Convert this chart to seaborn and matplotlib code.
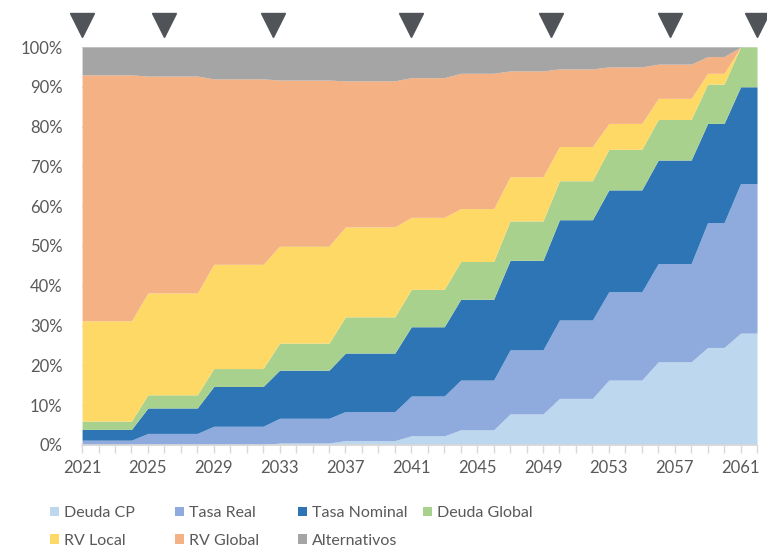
import matplotlib.pyplot as plt
import seaborn as sns
from matplotlib.patches import Patch
from matplotlib.ticker import PercentFormatter

years = list(range(2021, 2063))

# participacion de cada activo (%)
deuda_cp = [0, 0, 0, 0, 0, 0, 0, 0, 0, 0, 0, 0,
            0.5, 0.5, 0.5, 0.5, 1.1, 1.1, 1.1, 1.1,
            2.3, 2.3, 2.3, 3.8, 3.8, 3.8, 7.8, 7.8, 7.8,
            11.7, 11.7, 11.7, 16.3, 16.3, 16.3, 20.9, 20.9, 20.9,
            24.5, 24.5, 28.1, 28.1]
tasa_real = [1.2, 1.2, 1.2, 1.2, 2.9, 2.9, 2.9, 2.9, 4.7, 4.7, 4.7, 4.7,
             6.2, 6.2, 6.2, 6.2, 7.3, 7.3, 7.3, 7.3,
             10.0, 10.0, 10.0, 12.5, 12.5, 12.5, 16.1, 16.1, 16.1,
             19.7, 19.7, 19.7, 22.2, 22.2, 22.2, 24.7, 24.7, 24.7,
             31.4, 31.4, 37.6, 37.6]
tasa_nominal = [2.7, 2.7, 2.7, 2.7, 6.4, 6.4, 6.4, 6.4, 10.0, 10.0, 10.0, 10.0,
                12.1, 12.1, 12.1, 12.1, 14.7, 14.7, 14.7, 14.7,
                17.4, 17.4, 17.4, 20.3, 20.3, 20.3, 22.5, 22.5, 22.5,
                25.2, 25.2, 25.2, 25.6, 25.6, 25.6, 26.0, 26.0, 26.0,
                24.9, 24.9, 24.3, 24.3]
deuda_global = [2.1, 2.1, 2.1, 2.1, 3.3, 3.3, 3.3, 3.3, 4.5, 4.5, 4.5, 4.5,
                6.8, 6.8, 6.8, 6.8, 9.1, 9.1, 9.1, 9.1,
                9.4, 9.4, 9.4, 9.5, 9.5, 9.5, 9.9, 9.9, 9.9,
                9.8, 9.8, 9.8, 10.2, 10.2, 10.2, 10.2, 10.2, 10.2,
                9.9, 9.9, 10.0, 10.0]
rv_local = [25.2, 25.2, 25.2, 25.2, 25.6, 25.6, 25.6, 25.6, 26.2, 26.2, 26.2, 26.2,
            24.4, 24.4, 24.4, 24.4, 22.6, 22.6, 22.6, 22.6,
            18.1, 18.1, 18.1, 13.3, 13.3, 13.3, 11.1, 11.1, 11.1,
            8.6, 8.6, 8.6, 6.5, 6.5, 6.5, 5.3, 5.3, 5.3,
            2.7, 2.7, 0, 0]
rv_global = [61.8, 61.8, 61.8, 61.8, 54.5, 54.5, 54.5, 54.5, 46.6, 46.6, 46.6, 46.6,
             41.7, 41.7, 41.7, 41.7, 36.7, 36.7, 36.7, 36.7,
             35.1, 35.1, 35.1, 34.0, 34.0, 34.0, 26.6, 26.6, 26.6,
             19.5, 19.5, 19.5, 14.2, 14.2, 14.2, 8.6, 8.6, 8.6,
             4.2, 4.2, 0, 0]
alternativos = [7.0, 7.0, 7.0, 7.0, 7.3, 7.3, 7.3, 7.3, 8.0, 8.0, 8.0, 8.0,
                8.3, 8.3, 8.3, 8.3, 8.5, 8.5, 8.5, 8.5,
                7.7, 7.7, 7.7, 6.6, 6.6, 6.6, 6.0, 6.0, 6.0,
                5.5, 5.5, 5.5, 5.0, 5.0, 5.0, 4.3, 4.3, 4.3,
                2.4, 2.4, 0, 0]

labels = ["Deuda CP", "Tasa Real", "Tasa Nominal", "Deuda Global",
          "RV Local", "RV Global", "Alternativos"]
colors = ["#BDD7EE", "#8FAADC", "#2E75B6", "#A9D18E",
          "#FFD966", "#F4B183", "#A5A5A5"]

# marcadores de cambio de tramo (flechas arriba)
arrow_years = [2021, 2026, 2032.6, 2041, 2049.5, 2056.7, 2062]

sns.set_theme(style="white")
plt.rcParams['font.family'] = ['Lato', 'DejaVu Sans']
txt = "#595959"

fig, ax = plt.subplots(figsize=(7.67, 5.5), dpi=100)
fig.subplots_adjust(left=0.107, right=0.987, bottom=0.191, top=0.9145)

ax.stackplot(years, deuda_cp, tasa_real, tasa_nominal, deuda_global,
             rv_local, rv_global, alternativos,
             colors=colors, labels=labels, linewidth=0, zorder=2)

ax.set_xlim(2021, 2062)
ax.set_ylim(0, 100)
ax.set_yticks(range(0, 101, 10))
ax.yaxis.set_major_formatter(PercentFormatter(decimals=0))
ax.yaxis.grid(True, color="#D9D9D9", lw=1, zorder=0)
ax.set_axisbelow(True)

ax.set_xticks(years)
ax.set_xticklabels([str(y) if (y - 2021) % 4 == 0 else "" for y in years])
ax.tick_params(axis="x", length=6, width=1, color="#D9D9D9",
               labelcolor=txt, labelsize=12, pad=5, bottom=True)
ax.tick_params(axis="y", length=0, labelcolor=txt, labelsize=12, pad=14)

for s in ["top", "right", "left"]:
    ax.spines[s].set_visible(False)
ax.spines["bottom"].set_color("#D9D9D9")
ax.spines["bottom"].set_zorder(3)

ax.plot(arrow_years, [105.6] * len(arrow_years), linestyle="none",
        marker="v", markersize=17, color="#505459", clip_on=False, zorder=5)

# leyenda en 4 columnas, llenada por filas
handles = [Patch(facecolor=c, edgecolor="none") for c in colors]
cols = [[0, 4], [1, 5], [2, 6], [3]]
col_x = [50, 175, 298, 423]
for idx, x in zip(cols, col_x):
    fig.legend([handles[i] for i in idx], [labels[i] for i in idx],
               loc="upper left", bbox_to_anchor=(x / 767, 1 - 506 / 550),
               frameon=False, fontsize=11.5, labelcolor=txt,
               handlelength=0.55, handleheight=0.55, handletextpad=0.35,
               labelspacing=0.85, borderpad=0, borderaxespad=0)

fig.savefig("out.png", dpi=100)
